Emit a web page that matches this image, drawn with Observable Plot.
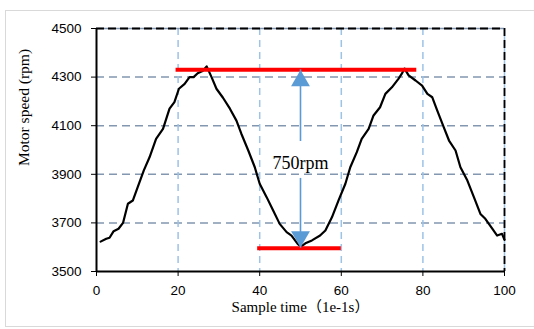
<!DOCTYPE html>
<html>
<head>
<meta charset="utf-8">
<script src="https://cdn.jsdelivr.net/npm/d3@7"></script>
<script src="https://cdn.jsdelivr.net/npm/@observablehq/plot@0.6"></script>
<style>
  html, body { margin: 0; padding: 0; background: #fff; }
  #wrap { position: relative; width: 534px; height: 329px; overflow: hidden; }
  #frame { position: absolute; left: 5px; top: 10px; width: 560px; height: 315px; border: 1.5px solid #d9d9d9; pointer-events: none; }
</style>
</head>
<body>
<div id="wrap"><div id="frame"></div></div>
<script>
// ---- data ----
const sampleTime = [1,2.4,3.2,4.2,5.4,6.5,7.7,8.9,10.1,11.6,13,14.6,16.3,17.9,19.1,20.2,21.6,22.8,23.8,24.8,26,27,28.2,29.4,31,32.7,34.3,35.5,37.2,38.8,40,41.7,43.3,44.9,46.6,47.8,49.4,50.1,51.2,52.8,54.8,56.1,57.7,59.3,61,62.2,63.8,65,66.7,67.9,69.5,70.8,72.4,74,74.8,75.5,76.5,78.2,79.8,81.1,82.3,83.5,85.1,86.4,88,89.2,90.9,92.5,94.1,95.3,97,98.2,99.4,100];
const motorSpeed = [3623,3635,3639,3666,3676,3700,3779,3792,3847,3916,3970,4046,4087,4170,4197,4252,4272,4300,4300,4316,4325,4344,4300,4252,4215,4170,4121,4067,3998,3929,3861,3806,3751,3696,3662,3648,3612,3602,3616,3628,3648,3669,3723,3792,3861,3929,3991,4046,4087,4142,4176,4231,4258,4293,4313,4335,4307,4286,4265,4231,4217,4163,4094,4039,3998,3929,3874,3806,3737,3717,3676,3648,3655,3630];
const xTicks = [0,20,40,60,80,100];
const yTicks = [3500,3700,3900,4100,4300,4500];
const xGrid = [20,40,60,80];
const yGrid = [3700,3900,4100,4300];
const maxLevel = {value: 4330, from: 19.5, to: 78.5};
const minLevel = {value: 3596, from: 39.5, to: 60};
const arrowX = 50;
const arrowLabel = "750rpm";
const xTitle = "Sample time（1e-1s）";
const yTitle = "Motor speed (rpm)";

const curve = sampleTime.map((t, i) => ({t, v: motorSpeed[i]}));
const mid = (maxLevel.value + minLevel.value) / 2;

const serif = "'Liberation Serif', 'Times New Roman', 'Noto Sans CJK SC', serif";

const chart = Plot.plot({
  width: 534,
  height: 329,
  marginLeft: 96,
  marginRight: 30,
  marginTop: 28,
  marginBottom: 58,
  style: {fontFamily: "'Liberation Sans', Arial, sans-serif", fontSize: "13.5px", color: "black", background: "transparent"},
  x: {domain: [0, 100], ticks: xTicks, tickSize: 5, tickPadding: 9, tickFormat: "d", label: null},
  y: {domain: [3500, 4500], ticks: yTicks, tickSize: 5, tickPadding: 10, tickFormat: "d", label: null},
  marks: [
    Plot.ruleY(yGrid, {stroke: "#8497b0", strokeWidth: 1.5, strokeDasharray: "8,5"}),
    Plot.ruleX(xGrid, {stroke: "#9dc3e6", strokeWidth: 1.5, strokeDasharray: "7,5"}),
    Plot.ruleY([4500], {stroke: "#8497b0", strokeWidth: 1.5}),
    Plot.ruleY([4500], {stroke: "black", strokeWidth: 1.8, strokeDasharray: "8,4"}),
    Plot.ruleX([100], {stroke: "#9dc3e6", strokeWidth: 1.5}),
    Plot.ruleX([100], {stroke: "black", strokeWidth: 1.8, strokeDasharray: "8,4"}),
    Plot.ruleX([0], {stroke: "black", strokeWidth: 2}),
    Plot.ruleY([3500], {stroke: "black", strokeWidth: 2}),
    Plot.line(curve, {x: "t", y: "v", stroke: "black", strokeWidth: 2.2, strokeLinejoin: "round"}),
    Plot.ruleY([maxLevel], {y: "value", x1: "from", x2: "to", stroke: "#ff0000", strokeWidth: 4}),
    Plot.ruleY([minLevel], {y: "value", x1: "from", x2: "to", stroke: "#ff0000", strokeWidth: 4}),
    Plot.ruleX([arrowX], {y1: maxLevel.value, y2: mid + 72, stroke: "#5b9bd5", strokeWidth: 1.6}),
    Plot.ruleX([arrowX], {y1: mid - 80, y2: minLevel.value, stroke: "#5b9bd5", strokeWidth: 1.6}),
    Plot.dot([{x: arrowX, y: maxLevel.value}], {x: "x", y: "y", symbol: "triangle2", r: 9, dy: 11, fill: "#5b9bd5", stroke: "none"}),
    Plot.dot([{x: arrowX, y: minLevel.value}], {x: "x", y: "y", symbol: "triangle2", r: 9, dy: -11.5, rotate: 180, fill: "#5b9bd5", stroke: "none"}),
    Plot.text([arrowLabel], {x: arrowX, y: mid, dy: 4, text: d => d, fontFamily: serif, fontSize: 18, fill: "black"}),
    Plot.text([xTitle], {frameAnchor: "bottom", dy: 40, text: d => d, fontFamily: serif, fontSize: 15, fill: "black"}),
    Plot.text([yTitle], {frameAnchor: "left", dx: -72, dy: 16, rotate: -90, text: d => d, fontFamily: serif, fontSize: 15.5, fill: "black"})
  ]
});
document.getElementById("wrap").prepend(chart);
</script>
</body>
</html>
